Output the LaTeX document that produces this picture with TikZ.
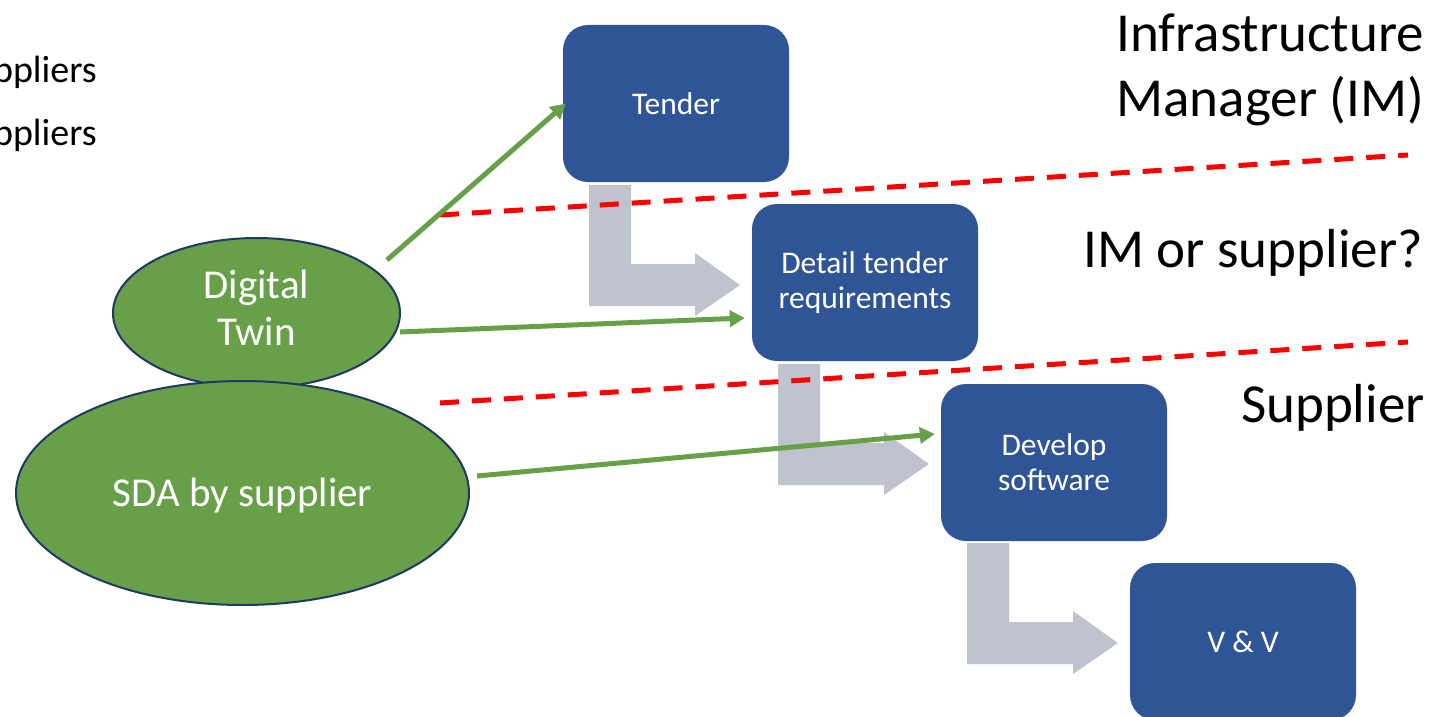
\documentclass[tikz,border=0pt]{standalone}
\usepackage{fontspec}
\setmainfont{Carlito}
\usetikzlibrary{shapes.geometric,arrows.meta,calc}
\definecolor{boxblue}{HTML}{2F5597}
\definecolor{leafgreen}{HTML}{68A04A}
\definecolor{rimnavy}{HTML}{1F3864}
\definecolor{bendgray}{HTML}{BFC3CE}
\definecolor{dividerred}{HTML}{FF0000}
\begin{document}
\begin{tikzpicture}[x=1pt,y=-1pt,
  procbox/.style={rectangle, rounded corners=25pt, fill=boxblue, text=white,
    minimum width=226pt, minimum height=157pt, inner sep=0pt, align=center,
    font=\fontsize{31.5}{35}\selectfont},
  blob/.style={ellipse, fill=leafgreen, draw=rimnavy, line width=2pt,
    inner sep=0pt, text=white, align=center, font=\fontsize{41}{47}\selectfont},
  flow/.style={draw=leafgreen, line width=5pt,
    -{Triangle[length=15pt,width=16pt]}},
  divider/.style={draw=dividerred, line width=5pt, dash pattern=on 19pt off 13pt},
  sidelabel/.style={anchor=east, inner sep=0pt, align=right,
    font=\fontsize{55}{65}\selectfont},
  lbend/.pic={\fill[bendgray] (0,0) -- (42,0) -- (42,79) -- (106,79) -- (106,68)
    -- (151,100) -- (106,131) -- (106,121) -- (0,121) -- cycle;}
]
\useasboundingbox (0,0) rectangle (1449,717);
\clip (0,0) rectangle (1449,717);

% leftover list text at the top left
\node[anchor=east, inner sep=0pt, font=\fontsize{38}{44}\selectfont] (list1) at (97,72) {ppliers};
\node[anchor=east, inner sep=0pt, font=\fontsize{38}{44}\selectfont] (list2) at (97,135) {ppliers};

% bent hand-over arrows between the process steps
\pic at (589,185) {lbend};
\pic at (778,364) {lbend};
\pic at (967,543) {lbend};

% process steps
\node[procbox] (tender)  at (676,103.5) {Tender};
\node[procbox] (detail)  at (865,282.5) {Detail tender\\requirements};
\node[procbox] (develop) at (1054,462.5) {Develop\\software};
\node[procbox] (vv)      at (1243,641.5) {V \& V};

% inputs
\node[blob, minimum width=287pt, minimum height=150pt, text depth=11pt] (dt) at (256.5,313) {Digital\\Twin};
\node[blob, minimum width=453pt, minimum height=224pt] (sda) at (242.5,493)
  {\raisebox{-3pt}[\height][\depth]{SDA by supplier}};

% responsibility boundaries
\draw[divider] (440,215) -- (1408,155);
\draw[divider] (440,403) -- (1408,342);

% role labels
\node[sidelabel] (im)   at (1424,70)  {Infrastructure\\Manager (IM)};
\node[sidelabel] (imos) at (1423,253) {IM or supplier?};
\node[sidelabel] (sup)  at (1425,408) {Supplier};

% inputs feeding the steps
\draw[flow] ($(dt.center)+(130.5,-53)$) -- ([xshift=3pt]tender.west);
\draw[flow] ($(dt.center)+(143.5,19)$) -- ([xshift=-7pt,yshift=-35.5pt]detail.west);
\draw[flow] ($(sda.center)+(234.5,-17)$) -- ([xshift=-6pt,yshift=28.5pt]develop.west);
\end{tikzpicture}
\end{document}
